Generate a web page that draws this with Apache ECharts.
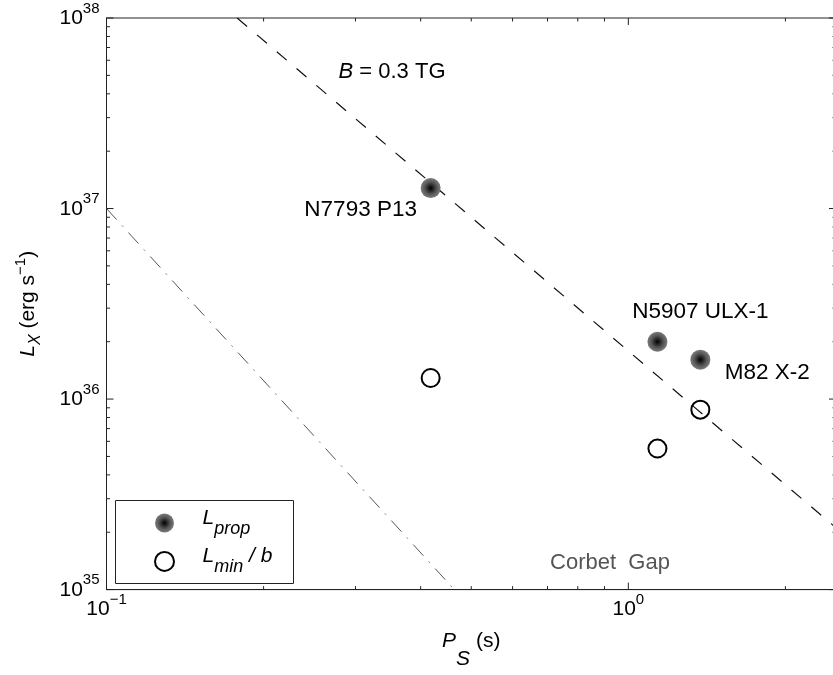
<!DOCTYPE html>
<html><head><meta charset="utf-8">
<script src="https://cdn.jsdelivr.net/npm/echarts@6/dist/echarts.min.js"></script>
<style>html,body{margin:0;padding:0;background:#fff;overflow:hidden}#wrap{width:833px;height:675px;overflow:hidden;position:relative}#c{width:839px;height:675px}</style>
</head><body><div id="wrap"><div id="c"></div></div>
<script>
// ---- data ----
const sources = ['N7793 P13', 'N5907 ULX-1', 'M82 X-2'];
const periods = [0.418, 1.137, 1.374];          // P_S (s)
const lProp = [1.28e37, 2.0e36, 1.61e36];        // L_prop (erg/s)
const lMinB = [1.29e36, 5.5e35, 8.8e35];         // L_min / b (erg/s)
const bLineP = [0.178, 2.5];                     // B = 0.3 TG line
const bLineL = [1e38, 2.11e35];
const gapLineP = [0.1, 0.464];                   // Corbet gap boundary
const gapLineL = [1e37, 1e35];
const xMajorTicks = [0.1, 1];
const xMinorTicks = [0.2, 0.3, 0.4, 0.5, 0.6, 0.7, 0.8, 0.9, 2];
const yMajorTicks = [1e35, 1e36, 1e37, 1e38];
const yMinorTicks = [2e35, 3e35, 4e35, 5e35, 6e35, 7e35, 8e35, 9e35,
                     2e36, 3e36, 4e36, 5e36, 6e36, 7e36, 8e36, 9e36,
                     2e37, 3e37, 4e37, 5e37, 6e37, 7e37, 8e37, 9e37];

// ---- layout / style ----
const FONT = 'Liberation Sans';
const labelOffsets = [[-70, 22], [43, -30], [67, 13]];

const chart = echarts.init(document.getElementById('c'), null, {renderer: 'canvas'});

function powLabel(v) {
  const e = Math.log10(v);
  if (Math.abs(e - Math.round(e)) > 1e-6) return '';
  const r = Math.round(e);
  return '{b|10}{s|' + (r < 0 ? '\u2212' + (-r) : r) + '}';
}
const powRich = {
  b: {fontSize: 21, lineHeight: 21, padding: [7, 0, 6, 0], fontFamily: FONT, color: '#000'},
  s: {fontSize: 15, lineHeight: 15, padding: [0, 0, 19, 0], fontFamily: FONT, color: '#000'}
};

const tickData = [];
xMajorTicks.forEach(v => tickData.push([0, v, 1, 1, 1e36]));
xMinorTicks.forEach(v => tickData.push([0, v, 0, 1, 1e36]));
yMajorTicks.forEach(v => tickData.push([1, v, 1, 1, 1e36]));
yMinorTicks.forEach(v => tickData.push([1, v, 0, 1, 1e36]));

function renderTick(params, api) {
  const cs = params.coordSys;
  const kind = api.value(0), v = api.value(1), major = api.value(2);
  const len = major ? 7 : 3.5;
  const st = {stroke: '#222', lineWidth: 1};
  if (kind === 0) {
    const px = api.coord([v, 1e36])[0];
    const yb = cs.y + cs.height, yt = cs.y;
    return {type: 'group', children: [
      {type: 'line', shape: {x1: px, y1: yb, x2: px, y2: yb - len}, style: st},
      {type: 'line', shape: {x1: px, y1: yt, x2: px, y2: yt + len}, style: st}
    ]};
  } else {
    const py = api.coord([1, v])[1];
    const xl = cs.x, xr = cs.x + cs.width;
    return {type: 'group', children: [
      {type: 'line', shape: {x1: xl, y1: py, x2: xl + len, y2: py}, style: st},
      {type: 'line', shape: {x1: xr, y1: py, x2: xr - len, y2: py}, style: st}
    ]};
  }
}

const filledGrad = {type: 'radial', x: 0.5, y: 0.5, r: 0.5, colorStops: [
  {offset: 0, color: '#000'}, {offset: 0.25, color: '#222'},
  {offset: 0.6, color: '#555'}, {offset: 1, color: '#7c7c7c'}]};

const option = {
  animation: false,
  backgroundColor: '#fff',
  textStyle: {fontFamily: FONT},
  grid: {left: 106.5, top: 18, right: 0.5, bottom: 80, show: true, borderColor: '#222', borderWidth: 1, backgroundColor: 'transparent'},
  xAxis: {
    type: 'log', logBase: 10, min: 0.1, max: 2.5,
    axisLine: {show: true, lineStyle: {color: '#222', width: 1}},
    axisTick: {show: false}, splitLine: {show: false}, minorTick: {show: false},
    axisLabel: {margin: 9, formatter: powLabel, rich: powRich, color: '#000'},
    name: '{i|P}{sub|S}{n| (s)}', nameLocation: 'middle', nameGap: 44,
    nameTextStyle: {fontFamily: FONT, color: '#000', rich: {
      i: {fontSize: 21, lineHeight: 21, fontStyle: 'italic', padding: [0, 0, 18, 0], fontFamily: FONT, color: '#000'},
      sub: {fontSize: 21, lineHeight: 21, fontStyle: 'italic', padding: [18, 0, 0, 0], fontFamily: FONT, color: '#000'},
      n: {fontSize: 21, lineHeight: 21, padding: [0, 0, 18, 0], fontFamily: FONT, color: '#000'}
    }}
  },
  yAxis: {
    type: 'log', logBase: 10, min: 1e35, max: 1e38,
    axisLine: {show: true, lineStyle: {color: '#222', width: 1}},
    axisTick: {show: false}, splitLine: {show: false}, minorTick: {show: false},
    axisLabel: {margin: 7, formatter: powLabel, rich: powRich, color: '#000'},
    name: '{i|L}{sub|X}{n| (erg s}{sup|\u22121}{n|)}', nameLocation: 'middle', nameGap: 68,
    nameTextStyle: {fontFamily: FONT, color: '#000', rich: {
      i: {fontSize: 21, lineHeight: 21, fontStyle: 'italic', padding: [9.5, 0, 9.5, 0], fontFamily: FONT, color: '#000'},
      n: {fontSize: 21, lineHeight: 21, padding: [9.5, 0, 9.5, 0], fontFamily: FONT, color: '#000'},
      sub: {fontSize: 16, lineHeight: 16, fontStyle: 'italic', padding: [20, 0, 4, 0], fontFamily: FONT, color: '#000'},
      sup: {fontSize: 15, lineHeight: 15, padding: [5, 0, 20, 0], fontFamily: FONT, color: '#000'}
    }}
  },
  legend: {
    orient: 'vertical', left: 154, top: 506, padding: 0, itemGap: 4.4,
    itemWidth: 66, itemHeight: 19, selectedMode: false,
    data: ['Lprop', 'Lmin'],
    formatter: n => n === 'Lprop' ? '{i|L}{sub|prop}' : '{i|L}{sub|min}{i| / b}',
    textStyle: {fontFamily: FONT, color: '#000', rich: {
      i: {fontSize: 21, lineHeight: 21, fontStyle: 'italic', padding: [1.5, 0, 11.5, 0], fontFamily: FONT, color: '#000'},
      sub: {fontSize: 18, lineHeight: 18, fontStyle: 'italic', padding: [13.5, 0, 2.5, 0], fontFamily: FONT, color: '#000'}
    }}
  },
  graphic: [
    {type: 'rect', shape: {x: 115.5, y: 500.5, width: 178, height: 83}, style: {fill: 'none', stroke: '#222', lineWidth: 1}, z: 100},
    {type: 'text', x: 392, y: 72, z: 100, style: {text: '{i|B}{n| = 0.3 TG}', align: 'center', verticalAlign: 'middle', fill: '#000',
      fontSize: 22, fontFamily: FONT,
      rich: {i: {fontStyle: 'italic', fontSize: 22, fontFamily: FONT, fill: '#000', color: '#000'}, n: {fontSize: 22, fontFamily: FONT, fill: '#000', color: '#000'}}}},
    {type: 'text', x: 610, y: 563, z: 100, style: {text: 'Corbet  Gap', align: 'center', verticalAlign: 'middle', fill: '#555', fontSize: 22, fontFamily: FONT}}
  ],
  series: [
    {type: 'line', name: 'B', data: bLineP.map((p, i) => [p, bLineL[i]]), showSymbol: false, silent: true,
      lineStyle: {type: [13, 13], color: '#111', width: 1.2}, z: 2},
    {type: 'line', name: 'gap', data: gapLineP.map((p, i) => [p, gapLineL[i]]), showSymbol: false, silent: true,
      lineStyle: {type: [15, 8, 1.5, 8], color: '#555', width: 1}, z: 2},
    {type: 'scatter', name: 'Lprop', data: periods.map((p, i) => ({
        value: [p, lProp[i]],
        label: {show: true, position: 'inside', offset: labelOffsets[i], formatter: sources[i],
          fontSize: 22.5, fontFamily: FONT, color: '#000'}
      })),
      symbol: 'circle', symbolSize: 20, itemStyle: {color: filledGrad, opacity: 1}, z: 5},
    {type: 'scatter', name: 'Lmin', data: periods.map((p, i) => [p, lMinB[i]]),
      symbol: 'circle', symbolSize: 18, itemStyle: {color: 'transparent', borderColor: '#000', borderWidth: 2, opacity: 1}, z: 5},
    {type: 'custom', name: 'ticks', renderItem: renderTick, silent: true, clip: false,
      dimensions: ['kind', 'val', 'major', 'x', 'y'], encode: {x: 3, y: 4}, data: tickData, z: 10}
  ]
};
chart.setOption(option);
</script>
</body></html>
